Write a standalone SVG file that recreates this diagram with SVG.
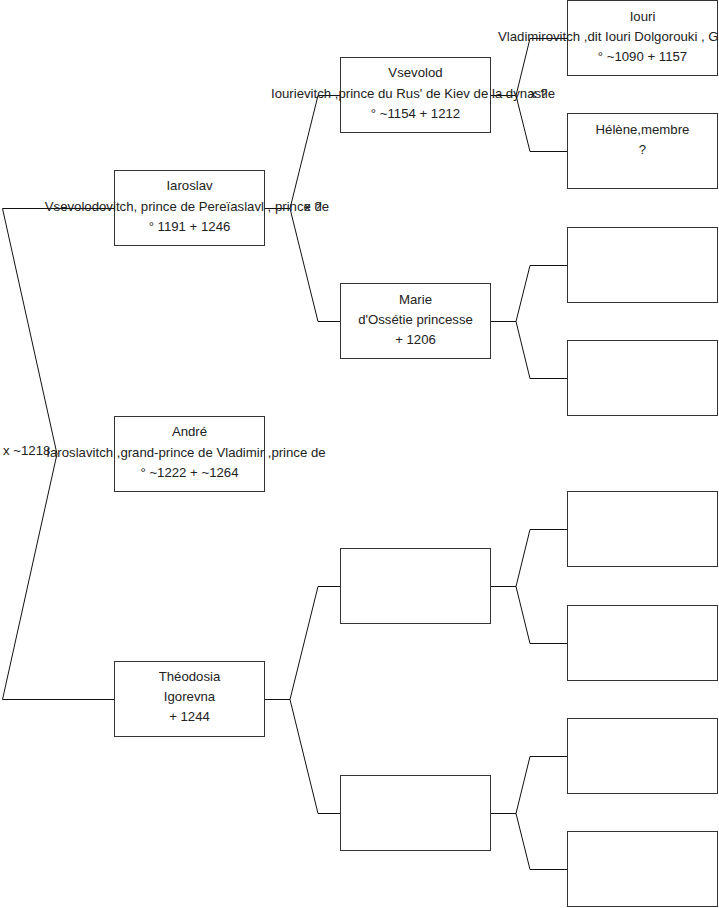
<svg xmlns="http://www.w3.org/2000/svg" width="719" height="908" viewBox="0 0 719 908">
<style>
.box{fill:#fff;stroke:#333;stroke-width:1}
.c{fill:none;stroke:#111;stroke-width:1}
text{font-family:"Liberation Sans",Arial,sans-serif;font-size:13.2px;fill:#222}
.m{text-anchor:middle}
</style>
<rect width="719" height="908" fill="#fff"/>
<g id="connectors">
<path class="c" d="M114.5,208.5 H2.5 L57,454 L2.5,699.5 H114.5"/>
<path class="c" d="M264.5,208.5 H290 M340.5,95.5 H318 L290,208.5 L318,321.5 H340.5"/>
<path class="c" d="M264.5,699.5 H290 M340.5,586.5 H318 L290,699.5 L318,813.5 H340.5"/>
<path class="c" d="M490.5,95.5 H516 M567.5,38.5 H530 L516,95.5 L530,151.5 H567.5"/>
<path class="c" d="M490.5,321.5 H516 M567.5,265.5 H530 L516,321.5 L530,378.5 H567.5"/>
<path class="c" d="M490.5,586.5 H516 M567.5,529.5 H530 L516,586.5 L530,643.5 H567.5"/>
<path class="c" d="M490.5,813.5 H516 M567.5,756.5 H530 L516,813.5 L530,869.5 H567.5"/>
</g>
<g id="labels">
<text x="3" y="455">x ~1218</text>
<text x="304" y="211">x ?</text>
<text x="530" y="98">x ?</text>
</g>
<g id="iaroslav">
<rect class="box" x="114.5" y="170.5" width="150" height="75"/>
<text class="m" x="189.5" y="190">Iaroslav</text>
<text class="m" x="187" y="211">Vsevolodovitch, prince de Pereïaslavl , prince de</text>
<text class="m" x="189.5" y="231">° 1191 + 1246</text>
</g>
<g id="andre">
<rect class="box" x="114.5" y="416.5" width="150" height="75"/>
<text class="m" x="189.5" y="436">André</text>
<text class="m" x="186" y="457">Iaroslavitch ,grand-prince de Vladimir ,prince de</text>
<text class="m" x="189.5" y="477">° ~1222 + ~1264</text>
</g>
<g id="theodosia">
<rect class="box" x="114.5" y="661.5" width="150" height="75"/>
<text class="m" x="189.5" y="681">Théodosia</text>
<text class="m" x="189.5" y="701">Igorevna</text>
<text class="m" x="189.5" y="721">+ 1244</text>
</g>
<g id="vsevolod">
<rect class="box" x="340.5" y="57.5" width="150" height="75"/>
<text class="m" x="415.5" y="77">Vsevolod</text>
<text class="m" x="413" y="98">Iourievitch ,prince du Rus' de Kiev de la dynastie</text>
<text class="m" x="415.5" y="118">° ~1154 + 1212</text>
</g>
<g id="marie">
<rect class="box" x="340.5" y="283.5" width="150" height="75"/>
<text class="m" x="415.5" y="304">Marie</text>
<text class="m" x="415.5" y="324">d'Ossétie princesse</text>
<text class="m" x="415.5" y="344">+ 1206</text>
</g>
<g id="p2c"><rect class="box" x="340.5" y="548.5" width="150" height="75"/></g>
<g id="p2d"><rect class="box" x="340.5" y="775.5" width="150" height="75"/></g>
<g id="iouri">
<rect class="box" x="567.5" y="0.5" width="150" height="75"/>
<text class="m" x="642.5" y="21">Iouri</text>
<text x="498" y="41">Vladimirovitch ,dit Iouri Dolgorouki , G</text>
<text class="m" x="642.5" y="61">° ~1090 + 1157</text>
</g>
<g id="helene">
<rect class="box" x="567.5" y="113.5" width="150" height="75"/>
<text class="m" x="642.5" y="134">Hélène,membre</text>
<text class="m" x="642.5" y="154">?</text>
</g>
<g id="p3c"><rect class="box" x="567.5" y="227.5" width="150" height="75"/></g>
<g id="p3d"><rect class="box" x="567.5" y="340.5" width="150" height="75"/></g>
<g id="p3e"><rect class="box" x="567.5" y="491.5" width="150" height="75"/></g>
<g id="p3f"><rect class="box" x="567.5" y="605.5" width="150" height="75"/></g>
<g id="p3g"><rect class="box" x="567.5" y="718.5" width="150" height="75"/></g>
<g id="p3h"><rect class="box" x="567.5" y="831.5" width="150" height="75"/></g>
</svg>
